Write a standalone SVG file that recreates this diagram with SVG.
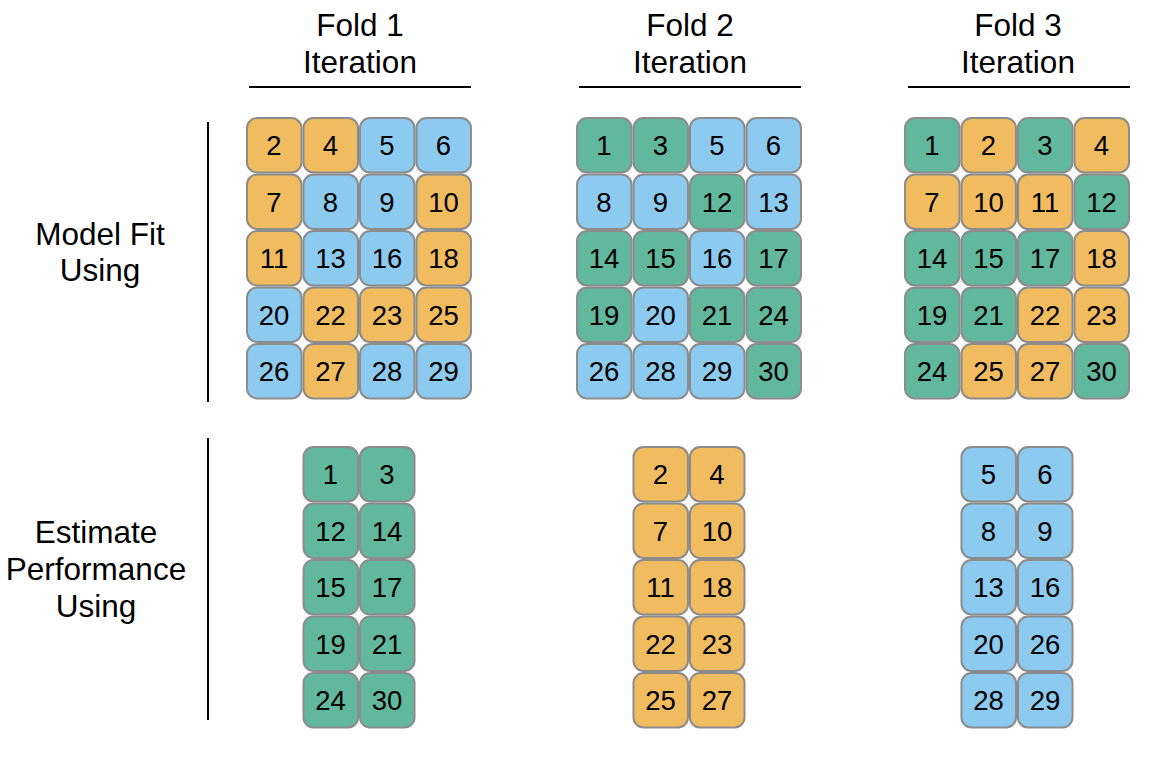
<svg xmlns="http://www.w3.org/2000/svg" width="1176" height="766" viewBox="0 0 1176 766">
<style>
.t rect{stroke:#8c8c8c;stroke-width:2}
.o{fill:#F0BC5F}
.b{fill:#8DCAEF}
.g{fill:#62B89D}
text{font-family:"Liberation Sans",Arial,sans-serif;fill:#000;text-anchor:middle}
.n{font-size:27.5px}
.h{font-size:31.5px}
.ln{stroke:#000;stroke-width:2;fill:none}
</style>
<rect x="0" y="0" width="1176" height="766" fill="#fff"/>
<g id="labels">
<text class="h" x="360" y="36">Fold 1</text><text class="h" x="360" y="73">Iteration</text>
<text class="h" x="690" y="36">Fold 2</text><text class="h" x="690" y="73">Iteration</text>
<text class="h" x="1018" y="36">Fold 3</text><text class="h" x="1018" y="73">Iteration</text>
<text class="h" x="100" y="245">Model Fit</text><text class="h" x="100" y="281">Using</text>
<text class="h" x="96" y="543">Estimate</text><text class="h" x="96" y="580">Performance</text><text class="h" x="96" y="617">Using</text>
</g>
<g id="connectors">
<line class="ln" x1="249" y1="87" x2="471" y2="87"/>
<line class="ln" x1="579" y1="87" x2="801" y2="87"/>
<line class="ln" x1="908" y1="87" x2="1130" y2="87"/>
<line class="ln" x1="208" y1="122" x2="208" y2="402"/>
<line class="ln" x1="208" y1="438" x2="208" y2="720"/>
</g>
<g id="fold1-fit" class="t">
<g id="f1a-2" transform="translate(247,118)"><rect class="o" width="54.5" height="54.5" rx="10"/><text class="n" x="27" y="37">2</text></g>
<g id="f1a-4" transform="translate(303.5,118)"><rect class="o" width="54.5" height="54.5" rx="10"/><text class="n" x="27" y="37">4</text></g>
<g id="f1a-5" transform="translate(360,118)"><rect class="b" width="54.5" height="54.5" rx="10"/><text class="n" x="27" y="37">5</text></g>
<g id="f1a-6" transform="translate(416.5,118)"><rect class="b" width="54.5" height="54.5" rx="10"/><text class="n" x="27" y="37">6</text></g>
<g id="f1a-7" transform="translate(247,174.5)"><rect class="o" width="54.5" height="54.5" rx="10"/><text class="n" x="27" y="37">7</text></g>
<g id="f1a-8" transform="translate(303.5,174.5)"><rect class="b" width="54.5" height="54.5" rx="10"/><text class="n" x="27" y="37">8</text></g>
<g id="f1a-9" transform="translate(360,174.5)"><rect class="b" width="54.5" height="54.5" rx="10"/><text class="n" x="27" y="37">9</text></g>
<g id="f1a-10" transform="translate(416.5,174.5)"><rect class="o" width="54.5" height="54.5" rx="10"/><text class="n" x="27" y="37">10</text></g>
<g id="f1a-11" transform="translate(247,231)"><rect class="o" width="54.5" height="54.5" rx="10"/><text class="n" x="27" y="37">11</text></g>
<g id="f1a-13" transform="translate(303.5,231)"><rect class="b" width="54.5" height="54.5" rx="10"/><text class="n" x="27" y="37">13</text></g>
<g id="f1a-16" transform="translate(360,231)"><rect class="b" width="54.5" height="54.5" rx="10"/><text class="n" x="27" y="37">16</text></g>
<g id="f1a-18" transform="translate(416.5,231)"><rect class="o" width="54.5" height="54.5" rx="10"/><text class="n" x="27" y="37">18</text></g>
<g id="f1a-20" transform="translate(247,287.5)"><rect class="b" width="54.5" height="54.5" rx="10"/><text class="n" x="27" y="37">20</text></g>
<g id="f1a-22" transform="translate(303.5,287.5)"><rect class="o" width="54.5" height="54.5" rx="10"/><text class="n" x="27" y="37">22</text></g>
<g id="f1a-23" transform="translate(360,287.5)"><rect class="o" width="54.5" height="54.5" rx="10"/><text class="n" x="27" y="37">23</text></g>
<g id="f1a-25" transform="translate(416.5,287.5)"><rect class="o" width="54.5" height="54.5" rx="10"/><text class="n" x="27" y="37">25</text></g>
<g id="f1a-26" transform="translate(247,344)"><rect class="b" width="54.5" height="54.5" rx="10"/><text class="n" x="27" y="37">26</text></g>
<g id="f1a-27" transform="translate(303.5,344)"><rect class="o" width="54.5" height="54.5" rx="10"/><text class="n" x="27" y="37">27</text></g>
<g id="f1a-28" transform="translate(360,344)"><rect class="b" width="54.5" height="54.5" rx="10"/><text class="n" x="27" y="37">28</text></g>
<g id="f1a-29" transform="translate(416.5,344)"><rect class="b" width="54.5" height="54.5" rx="10"/><text class="n" x="27" y="37">29</text></g>
</g>
<g id="fold1-est" class="t">
<g id="f1b-1" transform="translate(303.5,447)"><rect class="g" width="54.5" height="54.5" rx="10"/><text class="n" x="27" y="37">1</text></g>
<g id="f1b-3" transform="translate(360,447)"><rect class="g" width="54.5" height="54.5" rx="10"/><text class="n" x="27" y="37">3</text></g>
<g id="f1b-12" transform="translate(303.5,503.5)"><rect class="g" width="54.5" height="54.5" rx="10"/><text class="n" x="27" y="37">12</text></g>
<g id="f1b-14" transform="translate(360,503.5)"><rect class="g" width="54.5" height="54.5" rx="10"/><text class="n" x="27" y="37">14</text></g>
<g id="f1b-15" transform="translate(303.5,560)"><rect class="g" width="54.5" height="54.5" rx="10"/><text class="n" x="27" y="37">15</text></g>
<g id="f1b-17" transform="translate(360,560)"><rect class="g" width="54.5" height="54.5" rx="10"/><text class="n" x="27" y="37">17</text></g>
<g id="f1b-19" transform="translate(303.5,616.5)"><rect class="g" width="54.5" height="54.5" rx="10"/><text class="n" x="27" y="37">19</text></g>
<g id="f1b-21" transform="translate(360,616.5)"><rect class="g" width="54.5" height="54.5" rx="10"/><text class="n" x="27" y="37">21</text></g>
<g id="f1b-24" transform="translate(303.5,673)"><rect class="g" width="54.5" height="54.5" rx="10"/><text class="n" x="27" y="37">24</text></g>
<g id="f1b-30" transform="translate(360,673)"><rect class="g" width="54.5" height="54.5" rx="10"/><text class="n" x="27" y="37">30</text></g>
</g>
<g id="fold2-fit" class="t">
<g id="f2a-1" transform="translate(577,118)"><rect class="g" width="54.5" height="54.5" rx="10"/><text class="n" x="27" y="37">1</text></g>
<g id="f2a-3" transform="translate(633.5,118)"><rect class="g" width="54.5" height="54.5" rx="10"/><text class="n" x="27" y="37">3</text></g>
<g id="f2a-5" transform="translate(690,118)"><rect class="b" width="54.5" height="54.5" rx="10"/><text class="n" x="27" y="37">5</text></g>
<g id="f2a-6" transform="translate(746.5,118)"><rect class="b" width="54.5" height="54.5" rx="10"/><text class="n" x="27" y="37">6</text></g>
<g id="f2a-8" transform="translate(577,174.5)"><rect class="b" width="54.5" height="54.5" rx="10"/><text class="n" x="27" y="37">8</text></g>
<g id="f2a-9" transform="translate(633.5,174.5)"><rect class="b" width="54.5" height="54.5" rx="10"/><text class="n" x="27" y="37">9</text></g>
<g id="f2a-12" transform="translate(690,174.5)"><rect class="g" width="54.5" height="54.5" rx="10"/><text class="n" x="27" y="37">12</text></g>
<g id="f2a-13" transform="translate(746.5,174.5)"><rect class="b" width="54.5" height="54.5" rx="10"/><text class="n" x="27" y="37">13</text></g>
<g id="f2a-14" transform="translate(577,231)"><rect class="g" width="54.5" height="54.5" rx="10"/><text class="n" x="27" y="37">14</text></g>
<g id="f2a-15" transform="translate(633.5,231)"><rect class="g" width="54.5" height="54.5" rx="10"/><text class="n" x="27" y="37">15</text></g>
<g id="f2a-16" transform="translate(690,231)"><rect class="b" width="54.5" height="54.5" rx="10"/><text class="n" x="27" y="37">16</text></g>
<g id="f2a-17" transform="translate(746.5,231)"><rect class="g" width="54.5" height="54.5" rx="10"/><text class="n" x="27" y="37">17</text></g>
<g id="f2a-19" transform="translate(577,287.5)"><rect class="g" width="54.5" height="54.5" rx="10"/><text class="n" x="27" y="37">19</text></g>
<g id="f2a-20" transform="translate(633.5,287.5)"><rect class="b" width="54.5" height="54.5" rx="10"/><text class="n" x="27" y="37">20</text></g>
<g id="f2a-21" transform="translate(690,287.5)"><rect class="g" width="54.5" height="54.5" rx="10"/><text class="n" x="27" y="37">21</text></g>
<g id="f2a-24" transform="translate(746.5,287.5)"><rect class="g" width="54.5" height="54.5" rx="10"/><text class="n" x="27" y="37">24</text></g>
<g id="f2a-26" transform="translate(577,344)"><rect class="b" width="54.5" height="54.5" rx="10"/><text class="n" x="27" y="37">26</text></g>
<g id="f2a-28" transform="translate(633.5,344)"><rect class="b" width="54.5" height="54.5" rx="10"/><text class="n" x="27" y="37">28</text></g>
<g id="f2a-29" transform="translate(690,344)"><rect class="b" width="54.5" height="54.5" rx="10"/><text class="n" x="27" y="37">29</text></g>
<g id="f2a-30" transform="translate(746.5,344)"><rect class="g" width="54.5" height="54.5" rx="10"/><text class="n" x="27" y="37">30</text></g>
</g>
<g id="fold2-est" class="t">
<g id="f2b-2" transform="translate(633.5,447)"><rect class="o" width="54.5" height="54.5" rx="10"/><text class="n" x="27" y="37">2</text></g>
<g id="f2b-4" transform="translate(690,447)"><rect class="o" width="54.5" height="54.5" rx="10"/><text class="n" x="27" y="37">4</text></g>
<g id="f2b-7" transform="translate(633.5,503.5)"><rect class="o" width="54.5" height="54.5" rx="10"/><text class="n" x="27" y="37">7</text></g>
<g id="f2b-10" transform="translate(690,503.5)"><rect class="o" width="54.5" height="54.5" rx="10"/><text class="n" x="27" y="37">10</text></g>
<g id="f2b-11" transform="translate(633.5,560)"><rect class="o" width="54.5" height="54.5" rx="10"/><text class="n" x="27" y="37">11</text></g>
<g id="f2b-18" transform="translate(690,560)"><rect class="o" width="54.5" height="54.5" rx="10"/><text class="n" x="27" y="37">18</text></g>
<g id="f2b-22" transform="translate(633.5,616.5)"><rect class="o" width="54.5" height="54.5" rx="10"/><text class="n" x="27" y="37">22</text></g>
<g id="f2b-23" transform="translate(690,616.5)"><rect class="o" width="54.5" height="54.5" rx="10"/><text class="n" x="27" y="37">23</text></g>
<g id="f2b-25" transform="translate(633.5,673)"><rect class="o" width="54.5" height="54.5" rx="10"/><text class="n" x="27" y="37">25</text></g>
<g id="f2b-27" transform="translate(690,673)"><rect class="o" width="54.5" height="54.5" rx="10"/><text class="n" x="27" y="37">27</text></g>
</g>
<g id="fold3-fit" class="t">
<g id="f3a-1" transform="translate(905,118)"><rect class="g" width="54.5" height="54.5" rx="10"/><text class="n" x="27" y="37">1</text></g>
<g id="f3a-2" transform="translate(961.5,118)"><rect class="o" width="54.5" height="54.5" rx="10"/><text class="n" x="27" y="37">2</text></g>
<g id="f3a-3" transform="translate(1018,118)"><rect class="g" width="54.5" height="54.5" rx="10"/><text class="n" x="27" y="37">3</text></g>
<g id="f3a-4" transform="translate(1074.5,118)"><rect class="o" width="54.5" height="54.5" rx="10"/><text class="n" x="27" y="37">4</text></g>
<g id="f3a-7" transform="translate(905,174.5)"><rect class="o" width="54.5" height="54.5" rx="10"/><text class="n" x="27" y="37">7</text></g>
<g id="f3a-10" transform="translate(961.5,174.5)"><rect class="o" width="54.5" height="54.5" rx="10"/><text class="n" x="27" y="37">10</text></g>
<g id="f3a-11" transform="translate(1018,174.5)"><rect class="o" width="54.5" height="54.5" rx="10"/><text class="n" x="27" y="37">11</text></g>
<g id="f3a-12" transform="translate(1074.5,174.5)"><rect class="g" width="54.5" height="54.5" rx="10"/><text class="n" x="27" y="37">12</text></g>
<g id="f3a-14" transform="translate(905,231)"><rect class="g" width="54.5" height="54.5" rx="10"/><text class="n" x="27" y="37">14</text></g>
<g id="f3a-15" transform="translate(961.5,231)"><rect class="g" width="54.5" height="54.5" rx="10"/><text class="n" x="27" y="37">15</text></g>
<g id="f3a-17" transform="translate(1018,231)"><rect class="g" width="54.5" height="54.5" rx="10"/><text class="n" x="27" y="37">17</text></g>
<g id="f3a-18" transform="translate(1074.5,231)"><rect class="o" width="54.5" height="54.5" rx="10"/><text class="n" x="27" y="37">18</text></g>
<g id="f3a-19" transform="translate(905,287.5)"><rect class="g" width="54.5" height="54.5" rx="10"/><text class="n" x="27" y="37">19</text></g>
<g id="f3a-21" transform="translate(961.5,287.5)"><rect class="g" width="54.5" height="54.5" rx="10"/><text class="n" x="27" y="37">21</text></g>
<g id="f3a-22" transform="translate(1018,287.5)"><rect class="o" width="54.5" height="54.5" rx="10"/><text class="n" x="27" y="37">22</text></g>
<g id="f3a-23" transform="translate(1074.5,287.5)"><rect class="o" width="54.5" height="54.5" rx="10"/><text class="n" x="27" y="37">23</text></g>
<g id="f3a-24" transform="translate(905,344)"><rect class="g" width="54.5" height="54.5" rx="10"/><text class="n" x="27" y="37">24</text></g>
<g id="f3a-25" transform="translate(961.5,344)"><rect class="o" width="54.5" height="54.5" rx="10"/><text class="n" x="27" y="37">25</text></g>
<g id="f3a-27" transform="translate(1018,344)"><rect class="o" width="54.5" height="54.5" rx="10"/><text class="n" x="27" y="37">27</text></g>
<g id="f3a-30" transform="translate(1074.5,344)"><rect class="g" width="54.5" height="54.5" rx="10"/><text class="n" x="27" y="37">30</text></g>
</g>
<g id="fold3-est" class="t">
<g id="f3b-5" transform="translate(961.5,447)"><rect class="b" width="54.5" height="54.5" rx="10"/><text class="n" x="27" y="37">5</text></g>
<g id="f3b-6" transform="translate(1018,447)"><rect class="b" width="54.5" height="54.5" rx="10"/><text class="n" x="27" y="37">6</text></g>
<g id="f3b-8" transform="translate(961.5,503.5)"><rect class="b" width="54.5" height="54.5" rx="10"/><text class="n" x="27" y="37">8</text></g>
<g id="f3b-9" transform="translate(1018,503.5)"><rect class="b" width="54.5" height="54.5" rx="10"/><text class="n" x="27" y="37">9</text></g>
<g id="f3b-13" transform="translate(961.5,560)"><rect class="b" width="54.5" height="54.5" rx="10"/><text class="n" x="27" y="37">13</text></g>
<g id="f3b-16" transform="translate(1018,560)"><rect class="b" width="54.5" height="54.5" rx="10"/><text class="n" x="27" y="37">16</text></g>
<g id="f3b-20" transform="translate(961.5,616.5)"><rect class="b" width="54.5" height="54.5" rx="10"/><text class="n" x="27" y="37">20</text></g>
<g id="f3b-26" transform="translate(1018,616.5)"><rect class="b" width="54.5" height="54.5" rx="10"/><text class="n" x="27" y="37">26</text></g>
<g id="f3b-28" transform="translate(961.5,673)"><rect class="b" width="54.5" height="54.5" rx="10"/><text class="n" x="27" y="37">28</text></g>
<g id="f3b-29" transform="translate(1018,673)"><rect class="b" width="54.5" height="54.5" rx="10"/><text class="n" x="27" y="37">29</text></g>
</g>
</svg>
